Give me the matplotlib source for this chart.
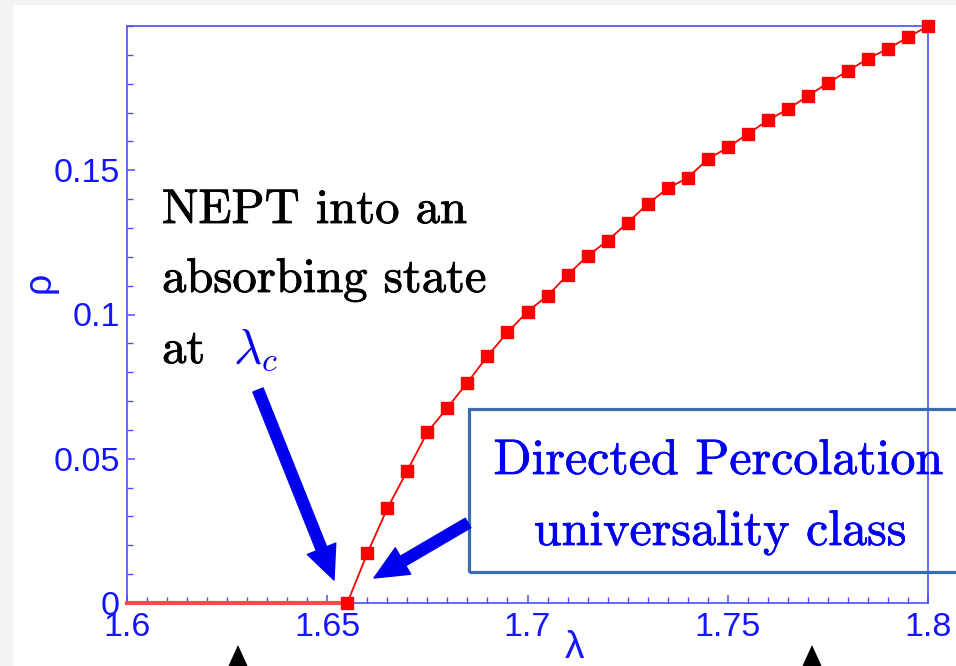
"""Order parameter rho vs lambda near the absorbing-state transition."""

import matplotlib

matplotlib.use("Agg")
import matplotlib.patheffects as pe
import matplotlib.pyplot as plt
from matplotlib.patches import FancyArrowPatch, Polygon, Rectangle
from matplotlib.ticker import FixedLocator, MultipleLocator

# absorbing branch (rho = 0 below lambda_c)
lam_absorbing = [1.600, 1.655]
rho_absorbing = [0.0, 0.0]

# active branch
lam_active = [
    1.655, 1.660, 1.665, 1.670, 1.675, 1.680, 1.685, 1.690, 1.695, 1.700,
    1.705, 1.710, 1.715, 1.720, 1.725, 1.730, 1.735, 1.740, 1.745, 1.750,
    1.755, 1.760, 1.765, 1.770, 1.775, 1.780, 1.785, 1.790, 1.795, 1.800,
]
rho_active = [
    0.0000, 0.0172, 0.0328, 0.0459, 0.0592, 0.0677, 0.0764, 0.0856, 0.0938, 0.1010,
    0.1065, 0.1137, 0.1203, 0.1256, 0.1318, 0.1383, 0.1437, 0.1474, 0.1538, 0.1579,
    0.1626, 0.1673, 0.1712, 0.1757, 0.1803, 0.1844, 0.1887, 0.1921, 0.1961, 0.2000,
]

x_ticks = [1.6, 1.65, 1.7, 1.75, 1.8]
x_tick_labels = ["1.6", "1.65", "1.7", "1.75", "1.8"]
y_ticks = [0.0, 0.05, 0.1, 0.15]
y_tick_labels = ["0", "0.05", "0.1", "0.15"]

W, H = 956, 666
SPINE = "#4d4dff"
LABEL = "#1414ff"
TEXT_BLUE = "#0000ee"


def fxy(px, py):
    """Figure pixel (from top-left) -> figure fraction."""
    return px / W, 1 - py / H


plt.rcParams["mathtext.fontset"] = "cm"

fig = plt.figure(figsize=(W / 100, H / 100), dpi=100)
fig.patch.set_facecolor("#f3f3f3")
fig.add_artist(Rectangle(fxy(13, 666), 1, 1 - 5 / H, transform=fig.transFigure,
                         facecolor="white", edgecolor="none", zorder=-5))

ax = fig.add_axes([127 / W, 1 - 603 / H, 801 / W, 577 / H])
ax.set_facecolor("white")

ax.plot(lam_absorbing, rho_absorbing, color="#ff4a4a", lw=3, clip_on=False, zorder=3)
ax.plot(lam_active, rho_active, color="red", lw=1.3, marker="s", ms=9,
        mfc="red", mec="red", clip_on=False, zorder=4)

ax.set_xlim(1.6, 1.8)
ax.set_ylim(0, 0.2)

for s in ax.spines.values():
    s.set_color(SPINE)
    s.set_linewidth(1.2)

ax.xaxis.set_major_locator(FixedLocator(x_ticks))
ax.set_xticklabels(x_tick_labels)
ax.xaxis.set_minor_locator(MultipleLocator(0.005))
ax.yaxis.set_major_locator(FixedLocator(y_ticks))
ax.set_yticklabels(y_tick_labels)
ax.yaxis.set_minor_locator(MultipleLocator(0.01))

ax.tick_params(which="both", direction="in", color=SPINE, top=False, right=False)
ax.tick_params(which="major", length=6, width=1.1)
ax.tick_params(which="minor", length=4, width=1.0)
ax.tick_params(axis="x", which="major", pad=6.5, labelsize=24.5, labelcolor=LABEL)
ax.tick_params(axis="y", which="major", pad=5, labelsize=24.5, labelcolor=LABEL)
for lab in ax.get_xticklabels() + ax.get_yticklabels():
    lab.set_family("Liberation Sans")

ax.set_xlabel("λ", color=LABEL, fontsize=28, family="Liberation Sans")
ax.xaxis.set_label_coords((574 - 127) / 801, (603 - 630) / 577)
ax.set_ylabel("ρ", color=LABEL, fontsize=27, family="Liberation Sans")
ax.yaxis.set_label_coords((58 - 127) / 801, (603 - 282) / 577)

# left annotation text
thick = [pe.withStroke(linewidth=0.6, foreground="black")]
serif = dict(family="cmr10", fontsize=35, color="black", ha="left", va="baseline",
             path_effects=thick)
fig.text(*fxy(162, 223), "NEPT into an", **serif)
fig.text(*fxy(162, 292), "absorbing state", **serif)
fig.text(*fxy(162, 363), "at", **serif)
fig.text(*fxy(233, 363), r"$\lambda_c$", fontsize=35, color=TEXT_BLUE,
         ha="left", va="baseline")

# boxed DP label
fig.add_artist(Rectangle(fxy(469, 572), 510 / W, 163 / H, transform=fig.transFigure,
                         facecolor="none", edgecolor="#3b6cb0", lw=2.3, zorder=6))
box_thick = [pe.withStroke(linewidth=0.5, foreground=TEXT_BLUE)]
box_txt = dict(family="cmr10", fontsize=36, color=TEXT_BLUE, ha="center",
               va="baseline", zorder=7, path_effects=box_thick)
fig.text(*fxy(718, 474), "Directed Percolation", **box_txt)
fig.text(*fxy(720, 545), "universality class", **box_txt)

# blue arrows
arrow_style = "simple,head_length=1.1,head_width=1.0,tail_width=0.36"
for tail, tip in [((258, 390), (334, 580)), ((468, 523), (374, 578))]:
    fig.add_artist(FancyArrowPatch(fxy(*tail), fxy(*tip), transform=fig.transFigure,
                                   arrowstyle=arrow_style, mutation_scale=22,
                                   color="#0000ee", shrinkA=0, shrinkB=0, zorder=8))

# black arrowheads cut off at the bottom edge
for cx in (238, 812):
    fig.add_artist(Polygon([fxy(cx, 645), fxy(cx - 10, 667), fxy(cx + 10, 667)],
                           closed=True, transform=fig.transFigure,
                           facecolor="black", edgecolor="none", zorder=8))

fig.savefig("out.png", dpi=100, facecolor=fig.get_facecolor())
plt.close(fig)
